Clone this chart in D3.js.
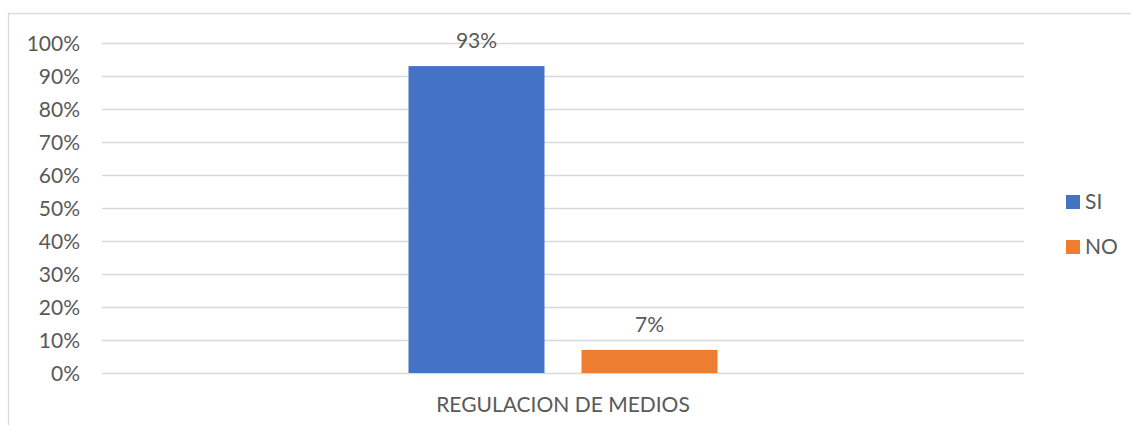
<!DOCTYPE html>
<html>
<head>
<meta charset=utf-8>
<title>Regulacion de medios</title>
<style>
body{margin: 0; background: #fff;}
#chart text{font-family: Lato, "Open Sans", sans-serif; fill: #595959;}
.grid line{stroke: #d9d9d9; stroke-width: 1.3;}
</style>
</head>
<body>
<svg id=chart width=1131 height=425></svg>
<script src='https://cdn.jsdelivr.net/npm/d3@7/dist/d3.min.js'></script>
<script>
//data
var categories = ['REGULACION DE MEDIOS'];
var seriesNames = ['SI', 'NO'];
var seriesValues = [0.93, 0.07];
var seriesColors = ['#4472c4', '#ed7d31'];
var yTicks = [0, 0.1, 0.2, 0.3, 0.4, 0.5, 0.6, 0.7, 0.8, 0.9, 1];

var svg = d3.select('#chart');

//plot area (note: "top" is reserved on window, so use plot* names)
var plotLeft = 102, plotRight = 1024, plotTop = 43, plotBottom = 373;

//chart border (only left & top edges fall inside the picture)
svg.append('rect')
    .attr('x', 8.5).attr('y', 13.5)
    .attr('width', 1200).attr('height', 500)
    .attr('fill', 'none')
    .attr('stroke', '#d9d9d9')
    .attr('stroke-width', 1.3);

var x0 = d3.scaleBand().domain(categories).range([plotLeft, plotRight]);
var x1 = d3.scaleBand().domain(seriesNames)
    .range([x0.bandwidth()/2 - 154.5, x0.bandwidth()/2 + 154.5])
    .paddingInner(0.214).paddingOuter(0);
var y = d3.scaleLinear().domain([0, 1]).range([plotBottom, plotTop]);

//gridlines
svg.append('g')
    .attr('class', 'grid')
  .selectAll('line')
    .data(yTicks)
  .enter().append('line')
    .attr('x1', plotLeft)
    .attr('x2', plotRight)
    .attr('y1', d => Math.round(y(d)) + 0.5)
    .attr('y2', d => Math.round(y(d)) + 0.5);

//y axis labels
var yAxis = svg.append('g')
    .attr('transform', 'translate(' + (plotLeft - 22) + ',0)')
    .call(d3.axisLeft(y).tickValues(yTicks).tickFormat(d3.format('.0%')).tickSize(0).tickPadding(0));
yAxis.select('.domain').remove();
yAxis.selectAll('text')
    .attr('font-size', 21)
    .attr('font-family', null)
    .attr('dy', '0.36em');

//bars
var cat = svg.append('g')
    .attr('transform', 'translate(' + x0(categories[0]) + ',0)');

cat.selectAll('rect')
    .data(seriesValues)
  .enter().append('rect')
    .attr('x', (d, i) => x1(seriesNames[i]))
    .attr('width', x1.bandwidth())
    .attr('y', d => y(d))
    .attr('height', d => plotBottom - y(d))
    .attr('fill', (d, i) => seriesColors[i]);

//value labels
cat.selectAll('text.val')
    .data(seriesValues)
  .enter().append('text')
    .attr('class', 'val')
    .attr('text-anchor', 'middle')
    .attr('font-size', 21)
    .attr('x', (d, i) => x1(seriesNames[i]) + x1.bandwidth()/2)
    .attr('y', d => y(d) - 18)
    .text(d => d3.format('.0%')(d));

//category label
svg.append('text')
    .attr('text-anchor', 'middle')
    .attr('font-size', 21)
    .attr('x', x0(categories[0]) + x0.bandwidth()/2)
    .attr('y', 412)
    .text(categories[0]);

//legend
var legend = svg.append('g').selectAll('g')
    .data(seriesNames)
  .enter().append('g')
    .attr('transform', (d, i) => 'translate(1066,' + (195 + i*45) + ')');
legend.append('rect')
    .attr('width', 14).attr('height', 14)
    .attr('fill', (d, i) => seriesColors[i]);
legend.append('text')
    .attr('x', 19)
    .attr('y', 14)
    .attr('font-size', 21)
    .text(d => d);
</script>
</body>
</html>
